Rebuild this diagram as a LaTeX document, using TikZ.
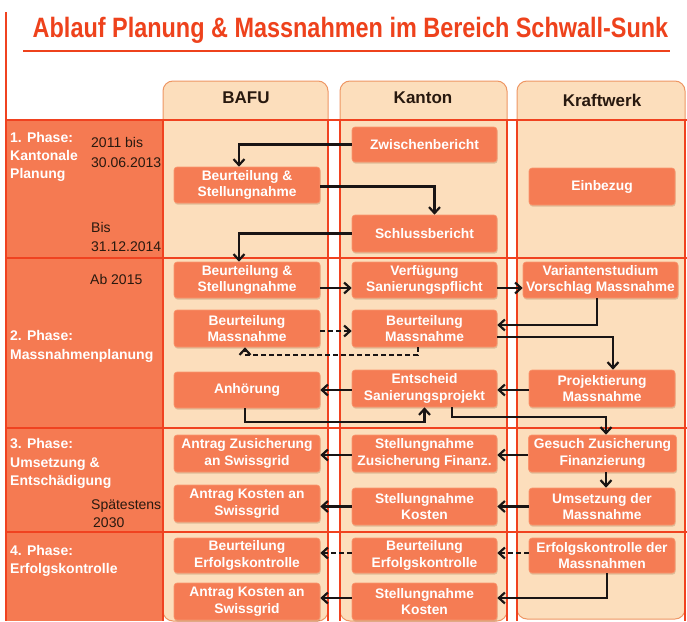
\documentclass[tikz,border=0pt]{standalone}
\usepackage{fontspec}
\setmainfont{Liberation Sans}
\usetikzlibrary{arrows.meta,shadows}
\definecolor{titlered}{RGB}{238,66,28}
\definecolor{bandred}{RGB}{240,66,32}
\definecolor{labelfill}{RGB}{245,122,82}
\definecolor{boxfill}{RGB}{245,124,84}
\definecolor{boxline}{RGB}{250,150,110}
\definecolor{colfill}{RGB}{252,222,188}
\definecolor{colline}{RGB}{238,150,100}
\definecolor{datecol}{RGB}{40,25,15}
\definecolor{arrowcol}{RGB}{25,20,20}
\tikzset{
  box/.style={fill=boxfill, draw=boxline, line width=0.6pt, rounded corners=3pt,
    minimum width=146pt, minimum height=36pt, inner sep=1pt, text=white,
    font=\fontsize{13.8}{16.5}\selectfont\bfseries, align=center,
    drop shadow={shadow xshift=0.6pt, shadow yshift=-1.6pt, opacity=0.25, fill=brown!70!black}},
  column/.style={fill=colfill, draw=colline, line width=1pt, rounded corners=10pt},
  header/.style={font=\fontsize{17}{20}\selectfont\bfseries, text=datecol},
  phaselbl/.style={anchor=base west, inner sep=0pt, text=white, font=\fontsize{14}{17}\selectfont\bfseries},
  datelbl/.style={anchor=base west, inner sep=0pt, text=datecol, font=\fontsize{14}{17}\selectfont},
  band/.style={draw=bandred, line width=1.8pt},
  flow/.style={draw=arrowcol, line width=2.2pt, -{Straight Barb[length=6pt,width=11pt]}},
  dflow/.style={flow, dash pattern=on 5pt off 3pt},
}
\begin{document}
\begin{tikzpicture}[x=1pt,y=-1pt]
\useasboundingbox (0,0) rectangle (687,621);
\fill[white] (0,0) rectangle (687,621);

% title
\node[anchor=base, inner sep=0pt, text=titlered, font=\fontsize{28}{30}\selectfont\bfseries] (title) at (350.5,37)
  {\scalebox{0.837}[1]{Ablauf Planung \& Massnahmen im Bereich Schwall-Sunk}};
\draw[titlered, line width=1.5pt] (23,51) -- (670,51);

% columns
\draw[column] (163,81) rectangle (328,621);
\draw[column] (340,81) rectangle (507,621);
\draw[column] (517,81) rectangle (685,619);
\node[header] (hbafu) at (246,98) {BAFU};
\node[header] (hkanton) at (423,98) {Kanton};
\node[header] (hkw) at (602,100) {Kraftwerk};

% phase label area
\fill[labelfill] (6,120) rectangle (163,621);
\foreach \yy in {120,258,428,532} \draw[band] (6,\yy) -- (687,\yy);
\draw[band] (6,12) -- (6,621);
\foreach \xx in {163,328,340,507,517,685} \draw[band] (\xx,120) -- (\xx,621);

% phase labels
\node[phaselbl] (p1a) at (10,142) {1. Phase:};
\node[phaselbl] (p1b) at (10,160) {Kantonale};
\node[phaselbl] (p1c) at (10,178) {Planung};
\node[datelbl] (d1a) at (91,147) {2011 bis};
\node[datelbl] (d1b) at (91,167) {30.06.2013};
\node[datelbl] (d1c) at (91,232) {Bis};
\node[datelbl] (d1d) at (91,251) {31.12.2014};
\node[datelbl] (d2a) at (90,284) {Ab 2015};
\node[phaselbl] (p2a) at (10,340) {2. Phase:};
\node[phaselbl] (p2b) at (10,359) {Massnahmenplanung};
\node[phaselbl] (p3a) at (10,448) {3. Phase:};
\node[phaselbl] (p3b) at (10,467) {Umsetzung \&};
\node[phaselbl] (p3c) at (10,485) {Entschädigung};
\node[datelbl] (d3a) at (91,509) {Spätestens};
\node[datelbl] (d3b) at (93,527) {2030};
\node[phaselbl] (p4a) at (10,555) {4. Phase:};
\node[phaselbl] (p4b) at (10,573) {Erfolgskontrolle};

% phase 1 boxes
\node[box, minimum width=145pt, minimum height=35pt] (zw) at (424.5,144.5) {Zwischenbericht};
\node[box] (bs1) at (247,185) {Beurteilung \&\\Stellungnahme};
\node[box, minimum height=37pt] (einb) at (602,186.5) {Einbezug};
\node[box, minimum width=145pt, minimum height=37pt] (schl) at (424.5,233.5) {Schlussbericht};

% phase 2 boxes
\node[box] (bs2) at (247,280) {Beurteilung \&\\Stellungnahme};
\node[box, minimum width=145pt] (verf) at (424.5,280) {Verfügung\\Sanierungspflicht};
\node[box, minimum width=155pt] (var) at (600.5,280) {Variantenstudium\\Vorschlag Massnahme};
\node[box, minimum height=37pt] (bmB) at (247,328.5) {Beurteilung\\Massnahme};
\node[box, minimum width=145pt, minimum height=37pt] (bmK) at (424.5,328.5) {Beurteilung\\Massnahme};
\node[box] (anh) at (247,390) {Anhörung};
\node[box, minimum width=145pt, minimum height=37pt] (ent) at (424.5,388.5) {Entscheid\\Sanierungsprojekt};
\node[box, minimum height=37pt] (proj) at (602,388.5) {Projektierung\\Massnahme};

% phase 3 boxes
\node[box, minimum height=37pt] (azs) at (247,453.5) {Antrag Zusicherung\\an Swissgrid};
\node[box, minimum width=145pt, minimum height=37pt] (szf) at (424.5,453.5) {Stellungnahme\\Zusicherung Finanz.};
\node[box, minimum width=148pt, minimum height=37pt] (gzf) at (602.5,453.5) {Gesuch Zusicherung\\Finanzierung};
\node[box, minimum height=37pt] (aks) at (247,503.5) {Antrag Kosten an\\Swissgrid};
\node[box, minimum width=145pt, minimum height=37pt] (sk) at (424.5,506.5) {Stellungnahme\\Kosten};
\node[box, minimum height=37pt] (ums) at (602,506.5) {Umsetzung der\\Massnahme};

% phase 4 boxes
\node[box, minimum height=35pt] (beB) at (247,555.5) {Beurteilung\\Erfolgskontrolle};
\node[box, minimum width=145pt, minimum height=35pt] (beK) at (424.5,555.5) {Beurteilung\\Erfolgskontrolle};
\node[box, minimum height=35pt] (edm) at (602,555.5) {Erfolgskontrolle der\\Massnahmen};
\node[box, minimum height=37pt] (ak4) at (247,601.5) {Antrag Kosten an\\Swissgrid};
\node[box, minimum width=145pt, minimum height=37pt] (sk4) at (424.5,601.5) {Stellungnahme\\Kosten};

% phase 1 arrows
\draw[flow] (zw.west) -| ([xshift=-8pt]bs1.north);
\draw[flow] ([yshift=-1.5pt]bs1.east) -| ([xshift=10pt]schl.north);
\draw[flow] (schl.west) -| ([xshift=-8pt]bs2.north);

% phase 2 arrows
\draw[flow] ([yshift=-8pt]bs2.east) -- ([yshift=-8pt]verf.west);
\draw[flow] ([yshift=-8pt]verf.east) -- ([yshift=-8pt]var.west);
\draw[flow] ([xshift=-3.5pt]var.south) |- ([yshift=3.5pt]bmK.east);
\draw[dflow] ([yshift=-2.5pt]bmB.east) -- ([yshift=-2.5pt]bmK.west);
\draw[dflow] ([xshift=-6.5pt]bmK.south) -- ++(0,8) -| ([xshift=-2pt]bmB.south);
\draw[flow] ([yshift=-8.5pt]bmK.east) -| ([xshift=11pt]proj.north);
\draw[flow] ([yshift=-1.5pt]proj.west) -- ([yshift=-1.5pt]ent.east);
\draw[flow] ([yshift=-1.5pt]ent.west) -- (anh.east);
\draw[flow] ([xshift=-2pt]anh.south) -- ++(0,14) -| (ent.south);
\draw[flow] ([xshift=27.5pt]ent.south) -- ++(0,10) -| ([xshift=3.5pt]gzf.north);

% phase 3 arrows
\draw[flow] ([yshift=-1.5pt]gzf.west) -- ([yshift=-1.5pt]szf.east);
\draw[flow] ([yshift=-1.5pt]szf.west) -- ([yshift=-1.5pt]azs.east);
\draw[flow] ([xshift=3.5pt]gzf.south) -- ([xshift=4pt]ums.north);
\draw[flow] (ums.west) -- (sk.east);
\draw[flow] (sk.west) -- (sk.west -| aks.east);

% phase 4 arrows
\draw[dflow] ([yshift=2.5pt]edm.west) -- ([yshift=2.5pt]beK.east);
\draw[dflow] ([yshift=2.5pt]beK.west) -- ([yshift=2.5pt]beB.east);
\draw[flow] ([xshift=5pt]edm.south) |- ([yshift=3.5pt]sk4.east);
\draw[flow] ([yshift=3.5pt]sk4.west) -- ([yshift=3.5pt]ak4.east);
\end{tikzpicture}
\end{document}
